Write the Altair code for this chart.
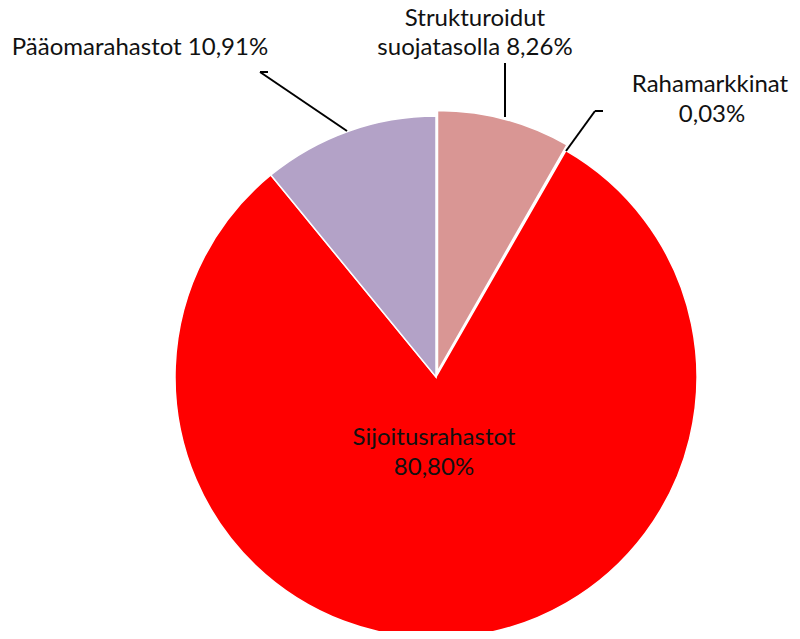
import altair as alt
import pandas as pd

# Slice data (clockwise from 12 o'clock)
categories = ["Strukturoidut suojatasolla", "Rahamarkkinat", "Sijoitusrahastot", "Pääomarahastot"]
values = [8.26, 0.03, 80.80, 10.91]
order = [1, 2, 3, 4]
colors = ["#D99694", "#8EB4E3", "#FF0000", "#B3A2C7"]
exploded = [True, False, False, False]

# Label lines (text) and their placement
label_text = ["Pääomarahastot 10,91%", "Strukturoidut", "suojatasolla 8,26%",
              "Rahamarkkinat", "0,03%", "Sijoitusrahastot", "80,80%"]
label_x = [132, 467, 467, 702, 704, 426, 426]
label_y = [47, 18, 47, 84, 114, 437, 467]

# Leader line segments (x, y, x2, y2) in pixels
seg_x = [252, 252, 497, 587, 587]
seg_y = [64, 64, 55, 103, 103]
seg_x2 = [260, 339, 497, 595, 558]
seg_y2 = [64, 123, 109, 103, 143]

slices = pd.DataFrame({"category": categories, "value": values, "order": order,
                       "color": colors, "exploded": exploded})
labels = pd.DataFrame({"text": label_text, "x": label_x, "y": label_y})
segs = pd.DataFrame({"x": seg_x, "y": seg_y, "x2": seg_x2, "y2": seg_y2})

R = 261
CX, CY = 428, 369

base = (
    alt.Chart(slices)
    .transform_window(cum="sum(value)", sort=[alt.SortField("order")], frame=[None, 0])
    .transform_calculate(start="datum.cum - datum.value")
)

theta_enc = alt.Theta("start:Q", scale=alt.Scale(domain=[0, 100]))
theta2_enc = alt.Theta2("cum:Q")

arcs = base.transform_filter("!datum.exploded").mark_arc(
    radius=R, stroke="white", strokeWidth=1.5
).encode(
    theta=theta_enc, theta2=theta2_enc,
    color=alt.Color("color:N", scale=None),
    x=alt.value(CX), y=alt.value(CY),
)

arcs_exp = base.transform_filter("datum.exploded").mark_arc(
    radius=R, stroke="white", strokeWidth=1.5
).encode(
    theta=theta_enc, theta2=theta2_enc,
    color=alt.Color("color:N", scale=None),
    x=alt.value(CX + 1.5), y=alt.value(CY - 5.5),
)

rules = alt.Chart(segs).mark_rule(color="black", strokeWidth=2).encode(
    x=alt.X("x:Q", scale=None), y=alt.Y("y:Q", scale=None),
    x2="x2:Q", y2="y2:Q",
)

texts = alt.Chart(labels).mark_text(
    font="Lato", fontSize=24, color="#111111", align="center", baseline="alphabetic"
).encode(
    x=alt.X("x:Q", scale=None), y=alt.Y("y:Q", scale=None), text="text:N",
)

chart = alt.layer(arcs, arcs_exp, rules, texts).properties(
    width=784, height=623, autosize=alt.AutoSizeParams(type="none"), padding=0
).configure_view(stroke=None)

chart.save("out.html", embed_options={"renderer": "svg", "actions": False})
